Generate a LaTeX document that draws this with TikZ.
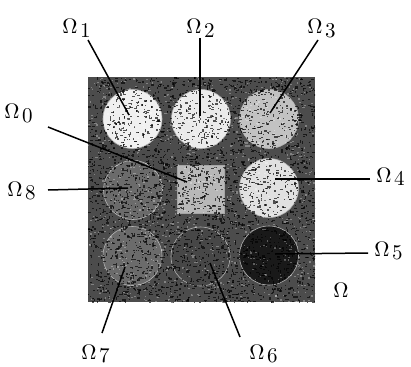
\documentclass[tikz,border=0pt]{standalone}
\newcommand{\omlab}[1]{$\Omega$\kern1.2pt\raisebox{-1.8pt}{#1}}
\begin{document}
\begin{tikzpicture}[x=1pt,y=-1pt,
  lab/.style={font=\normalsize, scale=2.1, inner sep=0pt, anchor=base west},
  ln/.style={line width=1.5pt, black},
  disk/.style={circle, minimum size=59pt, inner sep=0pt, draw=black!30, line width=0.6pt},
  sq/.style={rectangle, minimum width=47pt, minimum height=48pt, inner sep=0pt, draw=black!35, line width=0.6pt}]
\useasboundingbox (0,0) rectangle (411,366);
% domain
\fill[black!70] (88,77) rectangle (315,302);
% regions
\node[disk, fill=black!6]  (c1) at (132.5,119) {};
\node[disk, fill=black!8]  (c2) at (201,119) {};
\node[disk, fill=black!24] (c3) at (269,119) {};
\node[sq,   fill=black!28] (c0) at (200.5,189) {};
\node[disk, fill=black!12] (c4) at (269,188) {};
\node[disk, fill=black!58] (c8) at (133,190) {};
\node[disk, fill=black!58] (c7) at (132.5,256) {};
\node[disk, fill=black!72] (c6) at (200.5,256.5) {};
\node[disk, fill=black!90] (c5) at (269,255.5) {};
% noise
\begin{scope}
\clip (88,77) rectangle (315,302);
\pgfmathsetseed{7}
\foreach \i in {1,...,2400}{
  \pgfmathsetmacro{\xx}{88+227*rnd}
  \pgfmathsetmacro{\yy}{77+225*rnd}
  \pgfmathsetmacro{\ww}{0.8+2.4*rnd}
  \fill[black, opacity=0.65] (\xx,\yy) rectangle ++(\ww,1.2);
}
\foreach \i in {1,...,1000}{
  \pgfmathsetmacro{\xx}{88+227*rnd}
  \pgfmathsetmacro{\yy}{77+225*rnd}
  \pgfmathsetmacro{\hh}{0.8+2.4*rnd}
  \fill[black, opacity=0.65] (\xx,\yy) rectangle ++(1.2,\hh);
}
\foreach \i in {1,...,1000}{
  \pgfmathsetmacro{\xx}{88+227*rnd}
  \pgfmathsetmacro{\yy}{77+225*rnd}
  \pgfmathsetmacro{\ww}{0.8+1.6*rnd}
  \fill[white, opacity=0.3] (\xx,\yy) rectangle ++(\ww,1.2);
}
\end{scope}
% labels
\node[lab] (L1) at (62,34) {\omlab{1}};
\node[lab] (L2) at (186,34) {\omlab{2}};
\node[lab] (L3) at (307,34) {\omlab{3}};
\node[lab] (L0) at (4,119) {\omlab{0}};
\node[lab] (L8) at (7,196) {\omlab{8}};
\node[lab] (L4) at (376,182) {\omlab{4}};
\node[lab] (L5) at (374,256) {\omlab{5}};
\node[lab] (L) at (333,297) {$\Omega$};
\node[lab] (L7) at (81,359) {\omlab{7}};
\node[lab] (L6) at (249,359) {\omlab{6}};
% endpoints
\coordinate (e1) at (129,115);
\coordinate (e2) at (200,116);
\coordinate (e3) at (270,113);
\coordinate (e0) at (187,182);
\coordinate (e8) at (128,188);
\coordinate (e4) at (275,179);
\coordinate (e5) at (275,254);
\coordinate (e7) at (125,267);
\coordinate (e6) at (210,263);
% start points
\coordinate (s1) at (88,40);
\coordinate (s2) at (200,38);
\coordinate (s3) at (318,40);
\coordinate (s0) at (48,127);
\coordinate (s8) at (48,190);
\coordinate (s4) at (370,179);
\coordinate (s5) at (368,253);
\coordinate (s7) at (102,333);
\coordinate (s6) at (240,337);
% connectors
\draw[ln] (s1) -- (e1);
\draw[ln] (s2) -- (e2);
\draw[ln] (s3) -- (e3);
\draw[ln] (s0) -- (e0);
\draw[ln] (s8) -- (e8);
\draw[ln] (s4) -- (e4);
\draw[ln] (s5) -- (e5);
\draw[ln] (s7) -- (e7);
\draw[ln] (s6) -- (e6);
\end{tikzpicture}
\end{document}
